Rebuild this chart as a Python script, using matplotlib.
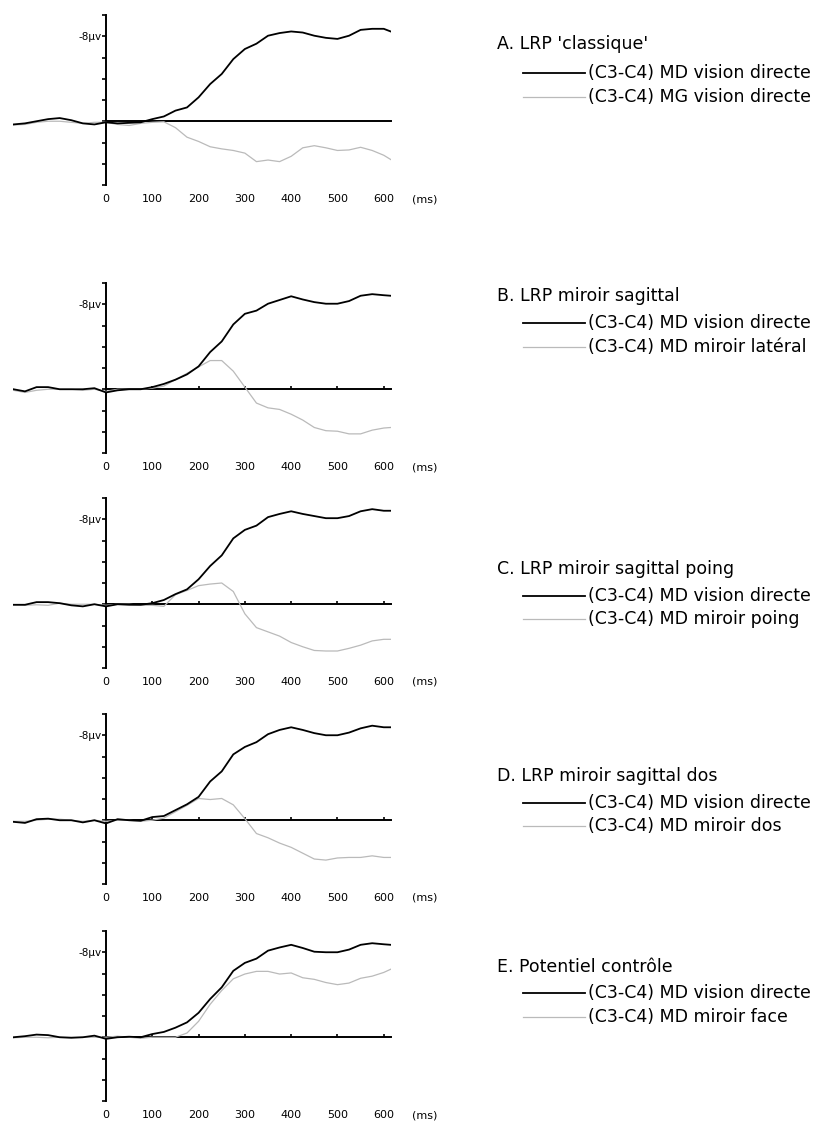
import matplotlib
matplotlib.use('Agg')
import matplotlib.pyplot as plt
from matplotlib.lines import Line2D

black_color = '#000000'
gray_color = '#bababa'

# time axis (ms) shared by all traces
t_ms = [-200, -175, -150, -125, -100, -75, -50, -25, 0, 25, 50, 75, 100, 125, 150, 175, 200,
        225, 250, 275, 300, 325, 350, 375, 400, 425, 450, 475, 500, 525, 550, 575, 600, 615]

# values in microvolts (negative is drawn upward)
a_md = [0.3, 0.2, 0.0, -0.2, -0.3, -0.1, 0.2, 0.3, 0.1, 0.2, 0.15, 0.1, -0.2, -0.45, -1.0, -1.3, -2.25,
        -3.5, -4.45, -5.85, -6.8, -7.3, -8.05, -8.3, -8.45, -8.35, -8.05, -7.85, -7.75, -8.05, -8.6, -8.7, -8.7, -8.45]
a_mg = [0.35, 0.3, 0.1, 0.0, 0.0, 0.1, 0.2, 0.1, 0.1, 0.3, 0.4, 0.2, 0.1, 0.05, 0.6, 1.5, 1.9,
        2.4, 2.6, 2.75, 3.0, 3.8, 3.65, 3.8, 3.3, 2.5, 2.3, 2.5, 2.75, 2.7, 2.45, 2.75, 3.2, 3.6]

b_md = [0.0, 0.2, -0.2, -0.2, 0.0, 0.0, 0.0, -0.1, 0.3, 0.1, 0.0, 0.0, -0.2, -0.5, -0.9, -1.4, -2.15,
        -3.5, -4.5, -6.1, -7.1, -7.4, -8.05, -8.4, -8.75, -8.45, -8.2, -8.05, -8.05, -8.3, -8.8, -8.95, -8.85, -8.8]
b_lat = [0.1, 0.3, 0.1, 0.0, 0.0, 0.0, 0.1, 0.0, 0.2, 0.0, 0.0, 0.0, -0.1, -0.3, -0.9, -1.5, -2.1,
         -2.7, -2.7, -1.7, -0.2, 1.3, 1.75, 1.9, 2.35, 2.9, 3.6, 3.9, 3.95, 4.2, 4.2, 3.85, 3.65, 3.6]

c_md = [0.05, 0.05, -0.2, -0.2, -0.1, 0.1, 0.2, 0.0, 0.2, 0.0, 0.05, 0.05, -0.1, -0.4, -0.95, -1.4, -2.35,
        -3.6, -4.6, -6.2, -7.0, -7.4, -8.2, -8.5, -8.75, -8.5, -8.3, -8.1, -8.1, -8.3, -8.75, -8.95, -8.8, -8.8]
c_poing = [0.05, 0.1, 0.05, 0.1, -0.1, 0.0, 0.0, 0.0, 0.1, 0.0, 0.0, 0.1, 0.1, 0.2, -0.9, -1.3, -1.75,
           -1.9, -2.0, -1.2, 0.9, 2.2, 2.6, 3.0, 3.6, 4.0, 4.35, 4.4, 4.4, 4.15, 3.85, 3.45, 3.3, 3.3]

d_md = [0.15, 0.25, -0.1, -0.15, 0.0, 0.0, 0.2, 0.0, 0.3, -0.1, 0.0, 0.05, -0.3, -0.4, -0.95, -1.5, -2.2,
        -3.65, -4.6, -6.2, -6.9, -7.35, -8.1, -8.5, -8.75, -8.5, -8.2, -8.0, -8.0, -8.25, -8.65, -8.9, -8.75, -8.75]
d_dos = [0.1, 0.1, 0.0, -0.1, -0.1, 0.0, 0.1, 0.0, 0.1, 0.0, 0.0, 0.1, 0.0, -0.2, -0.8, -1.4, -2.05,
         -1.95, -2.05, -1.45, -0.15, 1.25, 1.65, 2.15, 2.55, 3.1, 3.65, 3.75, 3.55, 3.5, 3.5, 3.35, 3.5, 3.5]

e_md = [0.0, -0.1, -0.25, -0.2, 0.0, 0.05, 0.0, -0.15, 0.15, 0.0, -0.05, 0.0, -0.3, -0.5, -0.9, -1.4, -2.3,
        -3.6, -4.7, -6.25, -7.0, -7.4, -8.15, -8.45, -8.7, -8.4, -8.05, -8.0, -8.0, -8.25, -8.7, -8.85, -8.75, -8.7]
e_face = [0.05, 0.0, 0.0, 0.05, 0.0, 0.0, 0.0, 0.0, 0.0, -0.1, 0.0, 0.1, 0.0, 0.0, 0.0, -0.4, -1.5,
          -3.1, -4.4, -5.5, -5.95, -6.2, -6.2, -5.95, -6.05, -5.6, -5.45, -5.15, -4.95, -5.1, -5.55, -5.75, -6.1, -6.4]

titles = ["A. LRP 'classique'", "B. LRP miroir sagittal", "C. LRP miroir sagittal poing",
          "D. LRP miroir sagittal dos", "E. Potentiel contrôle"]
black_labels = ["(C3-C4) MD vision directe"] * 5
gray_labels = ["(C3-C4) MG vision directe", "(C3-C4) MD miroir latéral", "(C3-C4) MD miroir poing",
               "(C3-C4) MD miroir dos", "(C3-C4) MD miroir face"]
black_series = [a_md, b_md, c_md, d_md, e_md]
gray_series = [a_mg, b_lat, c_poing, d_dos, e_face]

xtick_vals = [0, 100, 200, 300, 400, 500, 600]
xtick_labels = ['0', '100', '200', '300', '400', '500', '600']
ytick_vals = [-10, -8, -6, -4, -2, 0, 2, 4, 6]
ytick_labels = ['', '-8µv', '', '', '', '', '', '', '']

# pixel layout of the page
W, H = 823, 1127
zero_px = [121, 389, 604, 820, 1037]
legend_px = [(44, 73, 97), (296, 323, 347), (569, 596, 619), (776, 803, 826), (967, 993, 1017)]

fig = plt.figure(figsize=(W / 100, H / 100), dpi=100)

for i in range(5):
    z = zero_px[i]
    ax = fig.add_axes([13.4 / W, (H - (z + 64)) / H, 377.3 / W, 170 / H])
    ax.plot(t_ms, gray_series[i], color=gray_color, lw=0.9, zorder=3)
    ax.plot(t_ms, black_series[i], color=black_color, lw=1.3, zorder=4)
    ax.set_xlim(-200, 615)
    ax.set_ylim(6, -10)
    ax.patch.set_visible(False)

    ax.spines['top'].set_visible(False)
    ax.spines['right'].set_visible(False)
    ax.spines['left'].set_position(('data', 0))
    ax.spines['bottom'].set_position(('data', 0))
    ax.spines['bottom'].set_bounds(0, 615)
    for s in ('left', 'bottom'):
        ax.spines[s].set_linewidth(1.4)

    ax.set_yticks(ytick_vals)
    ax.set_yticklabels(ytick_labels, fontsize=7.5)
    ax.tick_params(axis='y', direction='out', length=3, width=1.2, pad=0.5)
    ax.set_xticks(xtick_vals)
    ax.set_xticklabels([])
    ax.tick_params(axis='x', direction='in', length=0 if i == 0 else 2, width=1.2)

    for tv, tl in zip(xtick_vals, xtick_labels):
        ax.text(tv, -14 / 170, tl, transform=ax.get_xaxis_transform(), ha='center', va='center',
                fontsize=8, clip_on=False)
    ax.text(689, -14 / 170, '(ms)', transform=ax.get_xaxis_transform(), ha='center', va='center',
            fontsize=8, clip_on=False)

    # legend block on the right
    ty, l1, l2 = legend_px[i]
    fig.text(497 / W, 1 - ty / H, titles[i], fontsize=12.5, ha='left', va='center')
    for yy, col, lw, lab in [(l1, black_color, 1.3, black_labels[i]), (l2, gray_color, 0.9, gray_labels[i])]:
        fig.add_artist(Line2D([523 / W, 585 / W], [1 - yy / H, 1 - yy / H], color=col, lw=lw,
                              transform=fig.transFigure))
        fig.text(588 / W, 1 - yy / H, lab, fontsize=12.5, ha='left', va='center')

plt.savefig('out.png', dpi=100)
